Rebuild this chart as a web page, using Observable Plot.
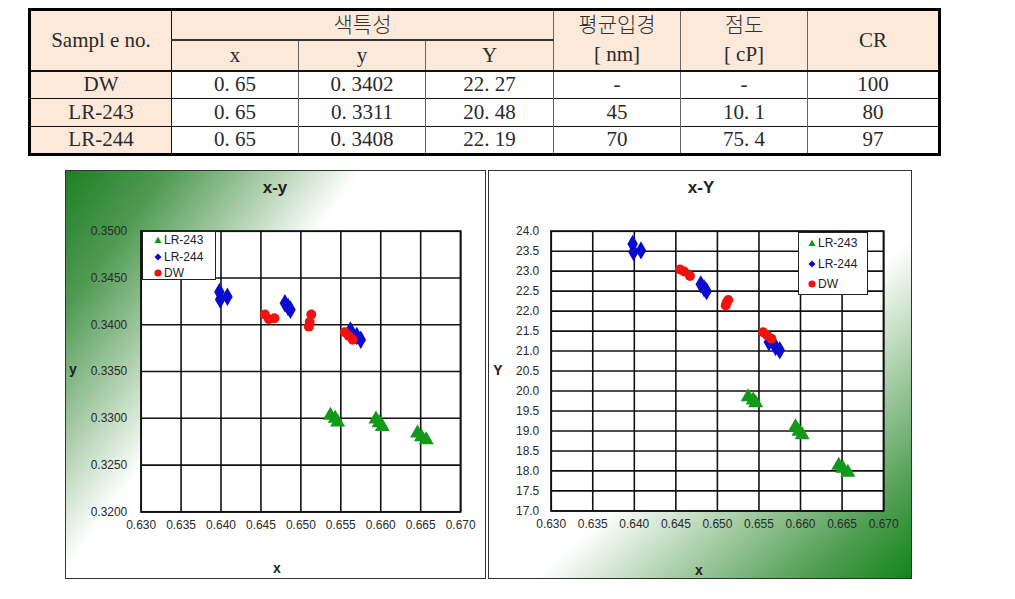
<!DOCTYPE html>
<html>
<head>
<meta charset="utf-8">
<script src="https://cdn.jsdelivr.net/npm/d3@7"></script>
<script src="https://cdn.jsdelivr.net/npm/@observablehq/plot@0.6"></script>
<style>
  html, body { margin:0; padding:0; background:#fff; }
  body { width:1015px; height:599px; position:relative; overflow:hidden; }
  #tbl { position:absolute; left:28px; top:8px; border-collapse:collapse; table-layout:fixed;
         font-family:"Liberation Serif","Noto Sans CJK KR",serif; font-size:21px; color:#2a2a2a;
         border:3px solid #000; }
  #tbl td { text-align:center; vertical-align:middle; padding:0; border-left:1px solid #666; border-right:1px solid #666; line-height:1.1; }
  #tbl .hd { background:#fde9da; }
  #tbl .ko { font-weight:300; color:#333; }
  #tbl .two { line-height:1.4; }
  #tbl .r1 td { height:26px; }
  #tbl .r2 td { height:26px; }
  #tbl .dr td { height:26.5px; border-top:1.5px solid #111; }
  #tbl .r2 td, #tbl .rs { border-bottom:2px solid #111; }
  #tbl .first { border-right:1.5px solid #111; }
  #tbl .span3 { border-bottom:2px solid #333; }
  .panel { position:absolute; top:170px; height:409px; box-sizing:border-box; border:1px solid #333; }
  #p1 { left:65px; width:421px; background:linear-gradient(126.6deg, #1f7f25 0%, #4f9a52 14%, #a9cca9 28%, #ffffff 41%); }
  #p2 { left:488px; width:424px; background:linear-gradient(137.9deg, #ffffff 57%, #aacfaa 72%, #4f9e52 88%, #12851a 100%); }
  .panel svg { position:absolute; left:-1px; top:-1px; }
  .ttl { position:absolute; font-family:"Liberation Sans",Arial,sans-serif; font-weight:bold; font-size:17px; color:#222; transform:translate(-50%,-50%); white-space:nowrap; }
  .lab { position:absolute; font-family:"Liberation Sans",Arial,sans-serif; font-weight:bold; font-size:14px; color:#222; transform:translate(-50%,-50%); }
  .legend { position:absolute; background:#fff; border:1px solid #222; box-sizing:border-box; font-family:"Liberation Sans",Arial,sans-serif; font-size:12px; color:#222; }
  .legend .it { position:absolute; left:0; white-space:nowrap; display:flex; align-items:center; transform:translateY(-50%); }
</style>
</head>
<body>
<script>
// ---------- table data ----------
const sampleNames = ["DW", "LR-243", "LR-244"];
const colX = ["0. 65", "0. 65", "0. 65"];
const colSmallY = ["0. 3402", "0. 3311", "0. 3408"];
const colBigY = ["22. 27", "20. 48", "22. 19"];
const colSize = ["-", "45", "70"];
const colVisc = ["-", "10. 1", "75. 4"];
const colCR = ["100", "80", "97"];

// ---------- scatter data (x, y, Y per measurement) ----------
const seriesNames = ["LR-243", "LR-244", "DW"];
const lr243_x = [0.6537, 0.6543, 0.6546, 0.6594, 0.6598, 0.6602, 0.6646, 0.6651, 0.6657];
const lr243_y = [0.3303, 0.3300, 0.3296, 0.3299, 0.3295, 0.3291, 0.3284, 0.3280, 0.3277];
const lr243_Y = [19.85, 19.77, 19.70, 19.10, 18.99, 18.90, 18.14, 18.06, 17.96];
const lr244_x = [0.6398, 0.6399, 0.6408, 0.6480, 0.6484, 0.6487, 0.6562, 0.6570, 0.6575];
const lr244_y = [0.3435, 0.3427, 0.3430, 0.3423, 0.3419, 0.3416, 0.3394, 0.3388, 0.3384];
const lr244_Y = [23.68, 23.48, 23.52, 22.67, 22.57, 22.50, 21.22, 21.10, 21.02];
const dw_x = [0.6455, 0.6460, 0.6467, 0.6513, 0.6511, 0.6510, 0.6555, 0.6560, 0.6565];
const dw_y = [0.3411, 0.3406, 0.3407, 0.3411, 0.3403, 0.3398, 0.3392, 0.3388, 0.3384];
const dw_Y = [23.04, 22.99, 22.88, 22.28, 22.21, 22.14, 21.47, 21.39, 21.31];

const xTicks = [0.630, 0.635, 0.640, 0.645, 0.650, 0.655, 0.660, 0.665, 0.670];
const yTicks = [0.3200, 0.3250, 0.3300, 0.3350, 0.3400, 0.3450, 0.3500];
const bigYTicks = [17.0, 17.5, 18.0, 18.5, 19.0, 19.5, 20.0, 20.5, 21.0, 21.5, 22.0, 22.5, 23.0, 23.5, 24.0];

const seriesColor = {"LR-243": "#119a17", "LR-244": "#0b0bd0", "DW": "#f21111"};
const seriesSymbol = {"LR-243": "triangle", "LR-244": "diamond", "DW": "circle"};

// ---------- build table ----------
const tbl = document.createElement("table");
tbl.id = "tbl";
const widths = [142, 127, 127, 128, 127, 127, 132];
const cg = document.createElement("colgroup");
widths.forEach(w => { const c = document.createElement("col"); c.style.width = w + "px"; cg.appendChild(c); });
tbl.appendChild(cg);
function td(tr, text, cls, rs, cs) {
  const c = document.createElement("td");
  c.innerHTML = text;
  if (cls) c.className = cls;
  if (rs) c.rowSpan = rs;
  if (cs) c.colSpan = cs;
  tr.appendChild(c);
  return c;
}
const r1 = document.createElement("tr"); r1.className = "r1";
td(r1, "Sampl e no.", "hd first rs", 2);
td(r1, "색특성", "hd span3 ko", 0, 3);
td(r1, "<span class='ko'>평균입경</span><br>[ nm]", "hd rs two", 2);
td(r1, "<span class='ko'>점도</span><br>[ cP]", "hd rs two", 2);
td(r1, "CR", "hd rs", 2);
tbl.appendChild(r1);
const r2 = document.createElement("tr"); r2.className = "r2";
td(r2, "x", "hd"); td(r2, "y", "hd"); td(r2, "Y", "hd");
tbl.appendChild(r2);
sampleNames.forEach((s, i) => {
  const tr = document.createElement("tr"); tr.className = "dr";
  td(tr, s, "hd first");
  td(tr, colX[i]); td(tr, colSmallY[i]); td(tr, colBigY[i]);
  td(tr, colSize[i]); td(tr, colVisc[i]); td(tr, colCR[i]);
  tbl.appendChild(tr);
});
document.body.appendChild(tbl);

// ---------- scatter rows ----------
function rows(name, xs, ys) { return xs.map((x, i) => ({series: name, x, v: ys[i]})); }
const dataXy = [...rows("LR-243", lr243_x, lr243_y), ...rows("LR-244", lr244_x, lr244_y), ...rows("DW", dw_x, dw_y)];
const dataXY = [...rows("LR-243", lr243_x, lr243_Y), ...rows("LR-244", lr244_x, lr244_Y), ...rows("DW", dw_x, dw_Y)];

function chart(data, opts) {
  const marks = [Plot.frame({fill: "white"}),
    Plot.gridX(xTicks, {stroke: "#111", strokeOpacity: 1, strokeWidth: 1.6}),
    Plot.gridY(opts.yTicks, {stroke: "#111", strokeOpacity: 1, strokeWidth: 1.6}),
    Plot.frame({stroke: "#111", strokeWidth: 1.8}),
    Plot.axisX(xTicks, {tickSize: 0, tickPadding: 9, tickFormat: d3.format(".3f"), label: null, fontSize: 12, fill: "#2a2a2a"}),
    Plot.axisY(opts.yTicks, {tickSize: 0, tickPadding: opts.yPad, tickFormat: d3.format(opts.yFmt), label: null, fontSize: 12, fill: "#2a2a2a"})
  ];
  for (const s of seriesNames) {
    marks.push(Plot.dot(data.filter(d => d.series === s), {
      x: "x", y: "v", symbol: () => seriesSymbol[s], r: s === "DW" ? 5 : 5.6,
      fill: seriesColor[s], stroke: "none"
    }));
  }
  return Plot.plot({
    width: opts.width, height: 411,
    marginLeft: opts.ml, marginRight: opts.mr, marginTop: 61, marginBottom: opts.mb,
    style: {background: "transparent", fontFamily: "Liberation Sans, Arial, sans-serif", color: "#333", overflow: "visible"},
    x: {domain: [0.63, 0.67]},
    y: {domain: opts.yDomain},
    symbol: {type: "identity"},
    marks
  });
}

function panel(id) {
  const p = document.createElement("div");
  p.className = "panel"; p.id = id;
  document.body.appendChild(p);
  return p;
}
const p1 = panel("p1");
p1.appendChild(chart(dataXy, {width: 421, ml: 76, mr: 24, mb: 68, yDomain: [0.32, 0.35], yTicks, yFmt: ".4f", yPad: 14}));
const p2 = panel("p2");
p2.appendChild(chart(dataXY, {width: 424, ml: 63, mr: 27, mb: 69, yDomain: [17, 24], yTicks: bigYTicks, yFmt: ".1f", yPad: 12}));

function addText(cls, text, x, y) {
  const d = document.createElement("div");
  d.className = cls; d.textContent = text;
  d.style.left = x + "px"; d.style.top = y + "px";
  document.body.appendChild(d);
}
addText("ttl", "x-y", 275, 188);
addText("ttl", "x-Y", 701, 188);
addText("lab", "y", 73, 369);
addText("lab", "x", 277, 568);
addText("lab", "Y", 498, 370);
addText("lab", "x", 699, 570);

function symSvg(s) {
  const c = seriesColor[s];
  let shape;
  if (s === "LR-243") shape = `<path d="M4,0.5 L7.5,7 L0.5,7 Z" fill="${c}"/>`;
  else if (s === "LR-244") shape = `<path d="M4,0.5 L7.5,4 L4,7.5 L0.5,4 Z" fill="${c}"/>`;
  else shape = `<circle cx="4" cy="4" r="3.6" fill="${c}"/>`;
  return `<svg width="8" height="8" style="margin-right:2px">${shape}</svg>`;
}
function legend(left, top, w, h, symX, ys) {
  const L = document.createElement("div");
  L.className = "legend";
  L.style.left = left + "px"; L.style.top = top + "px"; L.style.width = w + "px"; L.style.height = h + "px";
  seriesNames.forEach((s, i) => {
    const it = document.createElement("div");
    it.className = "it";
    it.style.left = symX + "px"; it.style.top = ys[i] + "px";
    it.innerHTML = symSvg(s) + "<span>" + s + "</span>";
    L.appendChild(it);
  });
  document.body.appendChild(L);
}
legend(142, 231, 74, 49, 11, [8, 25, 41]);
legend(798, 232, 70, 63, 9, [10, 31, 51]);
</script>
</body>
</html>
